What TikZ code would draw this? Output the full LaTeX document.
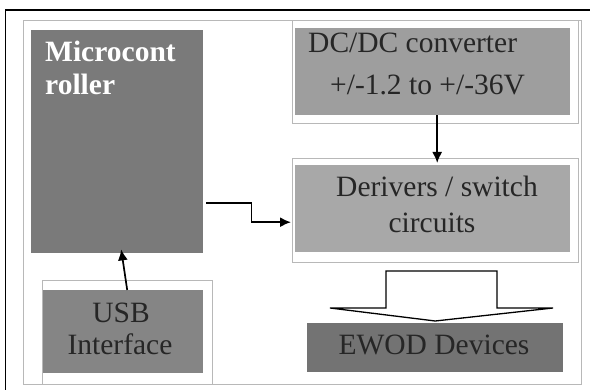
\documentclass[tikz,border=0pt]{standalone}
\usepackage{fontspec}
\setmainfont{Liberation Serif}
\usetikzlibrary{arrows.meta}
\begin{document}
\begin{tikzpicture}[x=1pt,y=-1pt,
  blk/.style={fill=#1, draw=none, inner sep=0pt, anchor=north west},
  lbl/.style={inner sep=0pt, font=\fontsize{29.5}{34}\selectfont, text=black!85},
  wlbl/.style={inner sep=0pt, font=\fontsize{29.5}{34}\selectfont\bfseries, text=white},
  frameline/.style={draw=black!28, line width=0.8pt},
  conn/.style={line width=1.7pt, -{Latex[length=11pt,width=10pt]}}]
\useasboundingbox (0,0) rectangle (590,390);
\fill[white] (0,0) rectangle (590,390);

% page rule (top and left)
\draw[line width=1.5pt] (5.5,390) -- (5.5,10) -- (590,10);

% light frames
\draw[frameline] (23,20) rectangle (581,384);
\draw[frameline] (292,20) rectangle (578,123);
\draw[frameline] (292,158) rectangle (578,262);
\draw[frameline] (42,280) rectangle (212,384);

% blocks
\node[blk=black!52, minimum width=172pt, minimum height=223pt] (mc) at (31,30) {};
\node[blk=black!48, minimum width=160pt, minimum height=83pt] (usb) at (43,290) {};
\node[blk=black!38, minimum width=275pt, minimum height=87pt] (dcdc) at (295,28) {};
\node[blk=black!34, minimum width=275pt, minimum height=87pt] (drv) at (295,165) {};
\node[blk=black!55, minimum width=256pt, minimum height=49pt] (ewod) at (307,323) {};

% labels
\node[wlbl, anchor=base west] (mcA) at (45,62) {Microcont};
\node[wlbl, anchor=base west] (mcB) at (45,95) {roller};
\node[lbl, anchor=base] (usbA) at (121,323) {USB};
\node[lbl, anchor=base] (usbB) at (120,355) {Interface};
\node[lbl, anchor=base west] (dcA) at (308,53) {DC/DC converter};
\node[lbl, anchor=base west] (dcB) at (330,95) {+/-1.2 to +/-36V};
\node[lbl, anchor=base] (drvA) at (437,197) {Derivers / switch};
\node[lbl, anchor=base] (drvB) at (432,233) {circuits};
\node[lbl, anchor=base] (ewodA) at (434,355) {EWOD Devices};

% connectors
\draw[conn] ([xshift=4pt]usb.north) -- ([xshift=4pt,yshift=4pt]mc.south);
\draw[conn] ([xshift=4.5pt]dcdc.south) -- ([xshift=4.5pt,yshift=2pt]drv.north);
\draw[conn] ([xshift=3pt,yshift=-61.5pt]mc.east) -- ++(45,0) |- ([xshift=-4pt,yshift=-13.5pt]drv.west);

% wide block arrow from the drivers down to the devices
\coordinate (baL) at (386,271);
\coordinate (baR) at (497,271);
\coordinate (baTip) at ([yshift=2pt]ewod.north);
\draw[line width=1.3pt, fill=white, line join=miter]
  (baL) -- (baR) -- (baR |- 0,308) -- (553,308) -- (baTip)
  -- (330,308) -- (baL |- 0,308) -- cycle;
\end{tikzpicture}
\end{document}
